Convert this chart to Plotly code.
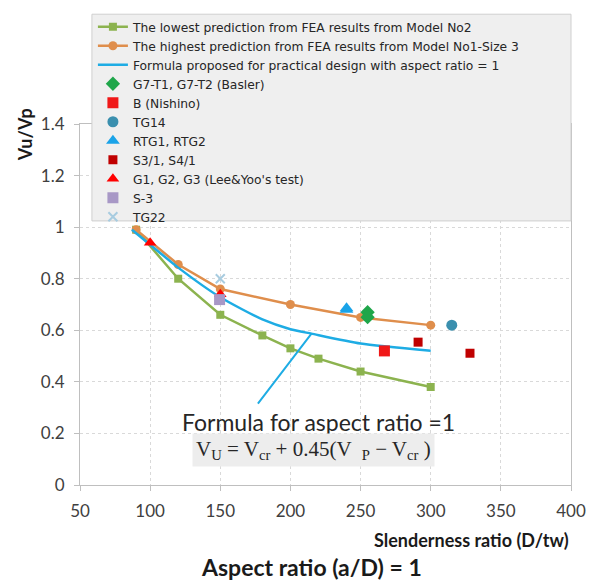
import plotly.graph_objects as go

# ---- data ----
low_x = [90, 120, 150, 180, 200, 220, 250, 300]
low_y = [0.99, 0.80, 0.66, 0.58, 0.53, 0.49, 0.44, 0.38]

high_x = [90, 120, 150, 200, 250, 300]
high_y = [0.99, 0.855, 0.76, 0.70, 0.65, 0.62]

formula_x = [87, 100, 120, 150, 180, 200, 215, 250, 300]
formula_y = [0.99, 0.932, 0.843, 0.728, 0.642, 0.604, 0.587, 0.549, 0.521]

basler_x = [255, 255]
basler_y = [0.67, 0.651]
nishino_x = [267]
nishino_y = [0.52]
tg14_x = [315]
tg14_y = [0.62]
rtg_x = [240, 240]
rtg_y = [0.68, 0.685]
s3_x = [291, 328]
s3_y = [0.554, 0.511]
lee_x = [100, 150]
lee_y = [0.939, 0.74]
s_3_x = [149.5]
s_3_y = [0.719]
tg22_x = [150]
tg22_y = [0.80]

x_ticks = [50, 100, 150, 200, 250, 300, 350, 400]
y_ticks = [0, 0.2, 0.4, 0.6, 0.8, 1, 1.2, 1.4]
y_tick_text = ["0", "0.2", "0.4", "0.6", "0.8", "1", "1.2", "1.4"]

FONT = "Lato"
W, H = 598, 582
L, R, T, B = 80, 24, 120, 97
PW, PH = W - L - R, H - T - B


def px(xp):
    return (xp - L) / PW


def py(yp):
    return (H - B - yp) / PH


fig = go.Figure()
fig.add_trace(go.Scatter(x=low_x, y=low_y, mode="lines+markers",
                         name="The lowest prediction from FEA results from Model No2",
                         line=dict(color="#8CB34F", width=2.5),
                         marker=dict(symbol="square", size=8, color="#8CB34F")))
fig.add_trace(go.Scatter(x=high_x, y=high_y, mode="lines+markers",
                         name="The highest prediction from FEA results from Model No1-Size 3",
                         line=dict(color="#DF8E4C", width=2.5),
                         marker=dict(symbol="circle", size=9, color="#DF8E4C")))
fig.add_trace(go.Scatter(x=formula_x, y=formula_y, mode="lines",
                         name="Formula proposed for practical design with aspect ratio = 1",
                         line=dict(color="#1EACE4", width=2.5, shape="spline", smoothing=0.6)))
fig.add_trace(go.Scatter(x=basler_x, y=basler_y, mode="markers", name="G7-T1, G7-T2 (Basler)",
                         marker=dict(symbol="diamond", size=11, color="#1FA64A")))
fig.add_trace(go.Scatter(x=nishino_x, y=nishino_y, mode="markers", name="B (Nishino)",
                         marker=dict(symbol="square", size=11, color="#F01818")))
fig.add_trace(go.Scatter(x=tg14_x, y=tg14_y, mode="markers", name="TG14",
                         marker=dict(symbol="circle", size=11, color="#3A8FAE")))
fig.add_trace(go.Scatter(x=rtg_x, y=rtg_y, mode="markers", name="RTG1, RTG2",
                         marker=dict(symbol="triangle-up", size=12, color="#1AA3E8")))
fig.add_trace(go.Scatter(x=s3_x, y=s3_y, mode="markers", name="S3/1, S4/1",
                         marker=dict(symbol="square", size=9, color="#C00000")))
fig.add_trace(go.Scatter(x=lee_x, y=lee_y, mode="markers", name="G1, G2, G3 (Lee&Yoo's test)",
                         marker=dict(symbol="triangle-up", size=11, color="#FF0000")))
fig.add_trace(go.Scatter(x=s_3_x, y=s_3_y, mode="markers", name="S-3",
                         marker=dict(symbol="square", size=11, color="#A898C6")))
fig.add_trace(go.Scatter(x=tg22_x, y=tg22_y, mode="markers", name="TG22",
                         marker=dict(symbol="x-thin", size=9, color="#A8CCE0",
                                     line=dict(width=2, color="#A8CCE0"))))

axis_common = dict(showline=True, linecolor="#BFBFBF", linewidth=1, mirror=True,
                   showgrid=True, gridcolor="#D9D9D9", griddash="dot", gridwidth=1,
                   ticks="outside", tickcolor="#BFBFBF", ticklen=5, zeroline=False,
                   tickfont=dict(family=FONT, size=17, color="#404040"))

fig.update_layout(
    width=W, height=H,
    margin=dict(l=L, r=R, t=T, b=B),
    paper_bgcolor="white", plot_bgcolor="white",
    font=dict(family=FONT, color="#262626"),
    xaxis=dict(range=[50, 400], tickvals=x_ticks, ticklabelstandoff=6, **axis_common),
    yaxis=dict(range=[0, 1.4], tickvals=y_ticks, ticktext=y_tick_text,
               ticklabelstandoff=6, **axis_common),
    showlegend=True,
    legend=dict(x=px(93), y=py(7), xanchor="left", yanchor="top",
                bgcolor="rgba(0,0,0,0)", borderwidth=0,
                font=dict(family="DejaVu Sans", size=12.3, color="#262626"),
                itemwidth=30, tracegroupgap=0),
)

# legend box
fig.add_shape(type="rect", xref="paper", yref="paper",
              x0=px(92), x1=1.0, y0=py(218), y1=py(9),
              fillcolor="#EFEFEF", line=dict(color="#CFCFCF", width=1), layer="above")

# annotations
fig.add_annotation(x=215, y=0.587, ax=176, ay=0.31, xref="x", yref="y", axref="x", ayref="y",
                   showarrow=True, arrowhead=0, arrowwidth=2, arrowcolor="#1EACE4", text="")
fig.add_annotation(x=px(320), y=py(421), xref="paper", yref="paper",
                   xanchor="center", yanchor="middle",
                   text="Formula for aspect ratio =1", showarrow=False,
                   font=dict(family=FONT, size=23, color="#262626"))
fig.add_annotation(x=px(315), y=py(450), xref="paper", yref="paper",
                   xanchor="center", yanchor="middle",
                   text="V<sub>U</sub> = V<sub>cr</sub> + 0.45(V  <sub>P</sub> \u2212 V<sub>cr</sub> )",
                   showarrow=False, bgcolor="#EDEDED", borderpad=3,
                   font=dict(family="Liberation Serif", size=21, color="#262626"))
fig.add_annotation(x=px(25), y=py(131), xref="paper", yref="paper",
                   xanchor="center", yanchor="middle",
                   text="<b>Vu/Vp</b>", showarrow=False, textangle=-90,
                   font=dict(family=FONT, size=18, color="#1a1a1a"))
fig.add_annotation(x=px(574), y=py(541), xref="paper", yref="paper",
                   xanchor="right", yanchor="middle",
                   text="<b>Slenderness ratio (D/tw)</b>", showarrow=False,
                   font=dict(family=FONT, size=18, color="#1a1a1a"))
fig.add_annotation(x=px(313), y=py(568), xref="paper", yref="paper",
                   xanchor="center", yanchor="middle",
                   text="<b>Aspect ratio (a/D) = 1</b>", showarrow=False,
                   font=dict(family=FONT, size=23, color="#1a1a1a"))

fig.write_html("out.html")
